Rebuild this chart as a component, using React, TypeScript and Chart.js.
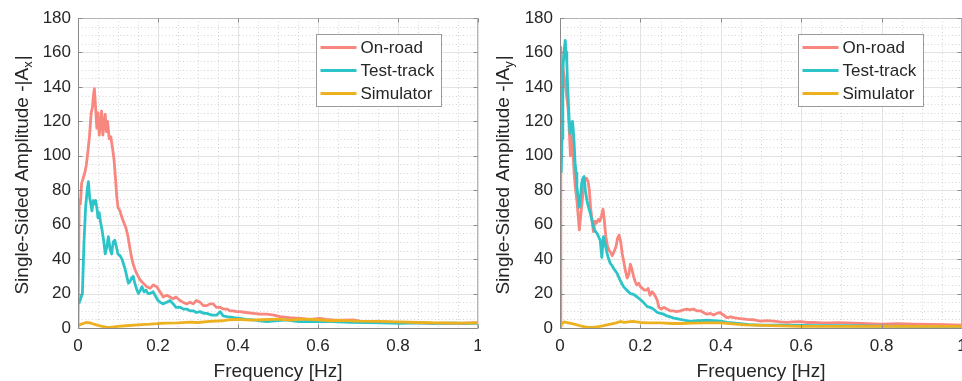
import { useEffect, useRef } from "react";
import { Chart, registerables } from "chart.js";

Chart.register(...registerables);

type Pt = [number, number];

const seriesNames = ["On-road", "Test-track", "Simulator"];
const seriesColors = ["#F7877F", "#2CC4C8", "#EDB120"];
const xTicks = [0, 0.2, 0.4, 0.6, 0.8, 1];
const yTicks = [0, 20, 40, 60, 80, 100, 120, 140, 160, 180];

// ---- Left panel (A_x) ----
const axOnRoad: Pt[] = [
  [0, 0], [0.003, 74], [0.006, 72], [0.009, 84], [0.013, 87], [0.017, 90], [0.021, 95], [0.025, 103],
  [0.029, 112], [0.033, 125], [0.036, 128], [0.039, 136], [0.041, 139], [0.044, 128], [0.047, 116],
  [0.05, 125], [0.053, 112], [0.056, 118], [0.059, 126], [0.062, 112], [0.065, 118], [0.068, 124],
  [0.071, 114], [0.074, 120], [0.078, 110], [0.082, 111], [0.086, 105], [0.09, 98], [0.094, 86],
  [0.097, 76], [0.1, 70], [0.105, 68], [0.11, 64], [0.115, 61], [0.12, 58], [0.125, 53], [0.13, 46],
  [0.134, 41], [0.138, 37], [0.1425, 34], [0.148, 31], [0.155, 28], [0.163, 26], [0.172, 24],
  [0.18, 23], [0.188, 25], [0.197, 24], [0.202, 22], [0.208, 20], [0.213, 18], [0.222, 19],
  [0.23, 18], [0.238, 17], [0.245, 18], [0.255, 16], [0.262, 15], [0.272, 14], [0.28, 15],
  [0.288, 14], [0.296, 16], [0.305, 15], [0.313, 13], [0.322, 13], [0.33, 14], [0.338, 14],
  [0.346, 12], [0.355, 12], [0.363, 11], [0.372, 11], [0.38, 10], [0.388, 10], [0.396, 9.5],
  [0.405, 9.5], [0.42, 9], [0.438, 8.5], [0.455, 8], [0.472, 8], [0.49, 7.5], [0.505, 6.6],
  [0.53, 6], [0.555, 5.6], [0.58, 5], [0.605, 5.6], [0.62, 5], [0.638, 4.7], [0.66, 4.5],
  [0.688, 4.7], [0.705, 4], [0.722, 3.7], [0.76, 3.5], [0.805, 3.1], [0.85, 3], [0.888, 2.7],
  [0.93, 2.8], [0.96, 2.6], [1, 3.1],
];
const axTestTrack: Pt[] = [
  [0.002, 14], [0.005, 16], [0.008, 18], [0.011, 20], [0.015, 50], [0.019, 70], [0.023, 80],
  [0.026, 85], [0.029, 76], [0.032, 72], [0.035, 68], [0.038, 74], [0.041, 72], [0.044, 74],
  [0.047, 70], [0.05, 64], [0.053, 67], [0.056, 62], [0.06, 57], [0.064, 51], [0.068, 43],
  [0.072, 47], [0.076, 53], [0.08, 46], [0.084, 43], [0.088, 50], [0.092, 51], [0.096, 47],
  [0.1, 43], [0.105, 42], [0.11, 40], [0.114, 37], [0.118, 34], [0.122, 30], [0.126, 26],
  [0.13, 27], [0.134, 29], [0.138, 30], [0.142, 26], [0.146, 23], [0.151, 20], [0.156, 22],
  [0.16, 24], [0.165, 21], [0.17, 22], [0.175, 20], [0.18, 20], [0.188, 21], [0.195, 18],
  [0.2, 16], [0.205, 15], [0.212, 14], [0.222, 15], [0.23, 16], [0.238, 14], [0.245, 12],
  [0.255, 12], [0.263, 11], [0.272, 11], [0.28, 10], [0.288, 10], [0.296, 9], [0.305, 9.5],
  [0.315, 8.5], [0.322, 8.5], [0.335, 7.5], [0.347, 7.5], [0.355, 9.5], [0.363, 7], [0.372, 6.6],
  [0.39, 6], [0.405, 5.6], [0.42, 5], [0.438, 4.7], [0.455, 4.2], [0.472, 3.7], [0.5, 4.3],
  [0.522, 4.7], [0.54, 4], [0.555, 3.7], [0.6, 3.9], [0.638, 3.7], [0.68, 3.3], [0.722, 3.1],
  [0.76, 3], [0.805, 2.7], [0.85, 3], [0.888, 2.7], [0.94, 2.8], [1, 2.7],
];
const axSimulator: Pt[] = [
  [0, 1], [0.005, 2], [0.012, 2.5], [0.02, 3.2], [0.03, 3], [0.04, 2.2], [0.05, 1.5], [0.06, 1],
  [0.07, 0.5], [0.08, 0.3], [0.09, 0.6], [0.1, 1], [0.12, 1.3], [0.15, 1.8], [0.18, 2.2],
  [0.2, 2.6], [0.22, 2.8], [0.25, 3], [0.28, 3.4], [0.3, 3.2], [0.33, 3.8], [0.36, 4.2],
  [0.38, 4.8], [0.4, 5], [0.43, 4.6], [0.46, 4.8], [0.5, 5.2], [0.53, 4.6], [0.56, 5.2],
  [0.6, 4.8], [0.63, 4.2], [0.66, 4.4], [0.7, 4], [0.75, 3.8], [0.8, 3.5], [0.85, 3.2],
  [0.9, 3], [0.95, 2.8], [1, 3],
];

// ---- Right panel (A_y) ----
const ayOnRoad: Pt[] = [
  [0, 0], [0.002, 163], [0.004, 150], [0.006, 156], [0.008, 150], [0.011, 145], [0.014, 140],
  [0.017, 134], [0.02, 128], [0.023, 115], [0.026, 100], [0.029, 115], [0.032, 104], [0.035, 90],
  [0.038, 82], [0.042, 74], [0.045, 66], [0.048, 57], [0.051, 64], [0.054, 71], [0.058, 80],
  [0.062, 86], [0.066, 87], [0.07, 85], [0.073, 80], [0.076, 70], [0.08, 62], [0.083, 56],
  [0.087, 62], [0.091, 61], [0.095, 63], [0.099, 62], [0.103, 65], [0.107, 69], [0.11, 63],
  [0.114, 53], [0.118, 48], [0.122, 45], [0.126, 44], [0.13, 42], [0.134, 44], [0.139, 47],
  [0.143, 52], [0.147, 54], [0.151, 50], [0.155, 43], [0.159, 38], [0.163, 33], [0.167, 29],
  [0.171, 31], [0.175, 37], [0.179, 34], [0.183, 30], [0.187, 27], [0.191, 25], [0.196, 26],
  [0.2, 24], [0.205, 23], [0.21, 22], [0.215, 22], [0.219, 23], [0.224, 19], [0.229, 21],
  [0.233, 20], [0.238, 18], [0.242, 16], [0.246, 12], [0.252, 11], [0.258, 12], [0.266, 11],
  [0.274, 10], [0.282, 10], [0.29, 9.5], [0.299, 10], [0.307, 10.5], [0.315, 11], [0.323, 10.5],
  [0.332, 11], [0.34, 10], [0.349, 10], [0.357, 9], [0.365, 8], [0.374, 8.5], [0.382, 7.5],
  [0.39, 8.5], [0.398, 9], [0.407, 7.5], [0.415, 6], [0.425, 6.5], [0.432, 6], [0.448, 5.5],
  [0.465, 5], [0.48, 4.8], [0.498, 4], [0.515, 4.3], [0.531, 4], [0.548, 3.5], [0.564, 3.3],
  [0.58, 3.6], [0.598, 3.7], [0.615, 3.2], [0.631, 3.3], [0.65, 3], [0.672, 2.9], [0.69, 3.1],
  [0.714, 2.9], [0.75, 2.6], [0.797, 2.3], [0.84, 2.5], [0.88, 2.3], [0.92, 2.1], [0.96, 2],
  [1, 1.7],
];
const ayTestTrack: Pt[] = [
  [0.003, 90], [0.005, 110], [0.007, 150], [0.01, 160], [0.013, 167], [0.015, 160], [0.017, 154],
  [0.019, 140], [0.021, 130], [0.023, 120], [0.025, 113], [0.028, 118], [0.031, 120], [0.033, 115],
  [0.035, 108], [0.0375, 96], [0.04, 90], [0.042, 82], [0.045, 76], [0.048, 70], [0.051, 76],
  [0.054, 84], [0.057, 87], [0.06, 88], [0.063, 80], [0.067, 74], [0.071, 70], [0.075, 67],
  [0.079, 63], [0.083, 59], [0.088, 56], [0.092, 55], [0.096, 53], [0.1, 51], [0.104, 41],
  [0.108, 53], [0.112, 49], [0.117, 43.5], [0.121, 40], [0.125, 37.6], [0.13, 36], [0.135, 34],
  [0.142, 31.8], [0.149, 28], [0.158, 24], [0.166, 22], [0.175, 20], [0.183, 19.5], [0.192, 18],
  [0.2, 16.5], [0.207, 15], [0.217, 12.4], [0.224, 12], [0.232, 11], [0.242, 9], [0.25, 8.5],
  [0.258, 8], [0.266, 7], [0.274, 6.5], [0.283, 5.8], [0.29, 5.5], [0.299, 5], [0.31, 4.5],
  [0.325, 3.8], [0.34, 4.3], [0.349, 4.3], [0.365, 4.5], [0.382, 4.3], [0.4, 4], [0.415, 3.3],
  [0.43, 3], [0.448, 2.5], [0.47, 2], [0.498, 1.7], [0.548, 1.7], [0.6, 1.5], [0.631, 1.4],
  [0.7, 1.3], [0.8, 1.1], [0.9, 1], [1, 1],
];
const aySimulator: Pt[] = [
  [0, 0], [0.005, 2.5], [0.01, 3.5], [0.02, 3], [0.03, 2.5], [0.04, 2], [0.05, 1.3], [0.06, 0.8],
  [0.07, 0.4], [0.08, 0.3], [0.09, 0.6], [0.1, 1], [0.12, 2], [0.14, 3], [0.15, 3.8], [0.16, 3.2],
  [0.18, 3.9], [0.2, 3.2], [0.22, 3], [0.25, 3], [0.28, 2.6], [0.3, 2.6], [0.33, 2.8], [0.36, 3],
  [0.4, 3], [0.43, 2.4], [0.46, 1.8], [0.5, 1.5], [0.55, 1.2], [0.6, 1], [0.7, 1], [0.8, 1],
  [0.9, 0.9], [1, 1],
];

const FONT = "'Liberation Sans', Arial, Helvetica, sans-serif";
const TEXT = "#262626";

function makePlugin(sub: string) {
  return {
    id: "matlabDecor" + sub,
    beforeDatasetsDraw(chart: any) {
      const { ctx, chartArea: a, scales } = chart;
      const x = scales.x;
      const y = scales.y;
      ctx.save();
      ctx.lineWidth = 1;
      ctx.strokeStyle = "#d4d4d4";
      ctx.setLineDash([1, 2.5]);
      for (let i = 1; i < 20; i++) {
        if (i % 4 === 0) continue;
        const px = Math.round(x.getPixelForValue(i * 0.05)) + 0.5;
        ctx.beginPath();
        ctx.moveTo(px, a.top);
        ctx.lineTo(px, a.bottom);
        ctx.stroke();
      }
      for (let i = 1; i < 36; i++) {
        if (i % 4 === 0) continue;
        const py = Math.round(y.getPixelForValue(i * 5)) + 0.5;
        ctx.beginPath();
        ctx.moveTo(a.left, py);
        ctx.lineTo(a.right, py);
        ctx.stroke();
      }
      ctx.setLineDash([]);
      ctx.strokeStyle = "#e2e2e2";
      xTicks.forEach((v) => {
        const px = Math.round(x.getPixelForValue(v)) + 0.5;
        ctx.beginPath();
        ctx.moveTo(px, a.top);
        ctx.lineTo(px, a.bottom);
        ctx.stroke();
      });
      yTicks.forEach((v) => {
        const py = Math.round(y.getPixelForValue(v)) + 0.5;
        ctx.beginPath();
        ctx.moveTo(a.left, py);
        ctx.lineTo(a.right, py);
        ctx.stroke();
      });
      ctx.restore();
    },
    afterDatasetsDraw(chart: any) {
      const { ctx, chartArea: a, scales } = chart;
      const x = scales.x;
      const y = scales.y;
      const L = Math.round(a.left) + 0.5;
      const R = Math.round(a.right) - 0.5;
      const T = Math.round(a.top) + 0.5;
      const B = Math.round(a.bottom) + 0.5;
      ctx.save();
      ctx.lineWidth = 1;
      ctx.strokeStyle = "#b4b4b4";
      ctx.beginPath();
      ctx.moveTo(L, T);
      ctx.lineTo(R, T);
      ctx.lineTo(R, B);
      ctx.stroke();
      ctx.strokeStyle = "#8a8a8a";
      xTicks.forEach((v) => {
        const px = Math.round(x.getPixelForValue(v)) + 0.5;
        ctx.beginPath();
        ctx.moveTo(px, B);
        ctx.lineTo(px, B - 4);
        ctx.moveTo(px, T);
        ctx.lineTo(px, T + 4);
        ctx.stroke();
      });
      yTicks.forEach((v) => {
        const py = Math.round(y.getPixelForValue(v)) + 0.5;
        ctx.beginPath();
        ctx.moveTo(L, py);
        ctx.lineTo(L + 4, py);
        ctx.moveTo(R, py);
        ctx.lineTo(R - 4, py);
        ctx.stroke();
      });
      ctx.strokeStyle = "#8a8a8a";
      ctx.beginPath();
      ctx.moveTo(L, T);
      ctx.lineTo(L, B);
      ctx.lineTo(R, B);
      ctx.stroke();

      // legend
      const bx = Math.round(a.left + 238) + 0.5;
      const by = 34.5;
      const bw = 125;
      const bh = 72;
      ctx.fillStyle = "#ffffff";
      ctx.fillRect(bx, by, bw, bh);
      ctx.strokeStyle = "#9a9a9a";
      ctx.strokeRect(bx, by, bw, bh);
      ctx.font = `17px ${FONT}`;
      ctx.textBaseline = "middle";
      ctx.textAlign = "left";
      chart.data.datasets.forEach((ds: any, i: number) => {
        const cy = 47.5 + 23 * i;
        ctx.strokeStyle = ds.borderColor;
        ctx.lineWidth = 2.8;
        ctx.beginPath();
        ctx.moveTo(bx + 4, cy);
        ctx.lineTo(bx + 40, cy);
        ctx.stroke();
        ctx.fillStyle = TEXT;
        ctx.fillText(ds.label, bx + 44, cy + 0.5);
      });
      ctx.restore();
    },
    afterDraw(chart: any) {
      const { ctx, chartArea: a } = chart;
      ctx.save();
      ctx.fillStyle = TEXT;
      ctx.font = `19px ${FONT}`;
      ctx.textAlign = "center";
      ctx.textBaseline = "alphabetic";
      ctx.fillText("Frequency [Hz]", (a.left + a.right) / 2, 377);
      const main = "Single-Sided Amplitude -|A";
      const tail = "|";
      ctx.font = `19px ${FONT}`;
      const wMain = ctx.measureText(main).width;
      const wTail = ctx.measureText(tail).width;
      ctx.font = `13px ${FONT}`;
      const wSub = ctx.measureText(sub).width;
      const total = wMain + wSub + wTail + 1;
      const cy = (a.top + a.bottom) / 2 + 2;
      ctx.translate(27.5, cy);
      ctx.rotate(-Math.PI / 2);
      ctx.textAlign = "left";
      let px = -total / 2;
      ctx.font = `19px ${FONT}`;
      ctx.fillText(main, px, 0);
      px += wMain;
      ctx.font = `13px ${FONT}`;
      ctx.fillText(sub, px, 4.5);
      px += wSub + 1;
      ctx.font = `19px ${FONT}`;
      ctx.fillText(tail, px, 0);
      ctx.restore();
    },
  };
}

function toPoints(arr: Pt[]) {
  return arr.map(([f, v]) => ({ x: f, y: v }));
}

function Panel({ series, sub, padLeft, yWidth, padRight }: { series: Pt[][]; sub: string; padLeft: number; yWidth: number; padRight: number }) {
  const ref = useRef<HTMLCanvasElement | null>(null);
  useEffect(() => {
    if (!ref.current) return;
    const chart = new Chart(ref.current, {
      type: "line",
      data: {
        datasets: series.map((s, i) => ({
          label: seriesNames[i],
          data: toPoints(s),
          borderColor: seriesColors[i],
          backgroundColor: seriesColors[i],
          borderWidth: 2.8,
          borderJoinStyle: "round",
          pointRadius: 0,
          tension: 0,
          fill: false,
          order: 2 - i,
        })),
      },
      options: {
        responsive: false,
        animation: false,
        events: [],
        layout: { autoPadding: false, padding: { left: padLeft, right: padRight, top: 18, bottom: 0 } },
        plugins: { legend: { display: false }, tooltip: { enabled: false }, title: { display: false } },
        scales: {
          x: {
            type: "linear",
            min: 0,
            max: 1,
            afterBuildTicks: (s: any) => {
              s.ticks = xTicks.map((v) => ({ value: v }));
            },
            ticks: {
              autoSkip: false,
              maxRotation: 0,
              padding: 8,
              color: TEXT,
              font: { family: FONT, size: 17 },
              callback: (v: any) => String(Number(Number(v).toFixed(1))),
            },
            grid: { display: false, drawTicks: false },
            border: { display: false },
            afterFit: (s: any) => {
              s.height = 53;
              s.paddingLeft = 0;
              s.paddingRight = 0;
            },
          },
          y: {
            type: "linear",
            min: 0,
            max: 180,
            afterBuildTicks: (s: any) => {
              s.ticks = yTicks.map((v) => ({ value: v }));
            },
            ticks: {
              autoSkip: false,
              padding: 7,
              color: TEXT,
              font: { family: FONT, size: 17 },
            },
            grid: { display: false, drawTicks: false },
            border: { display: false },
            afterFit: (s: any) => {
              s.width = yWidth;
              s.paddingTop = 0;
              s.paddingBottom = 0;
            },
          },
        },
      } as any,
      plugins: [makePlugin(sub)],
    });
    return () => chart.destroy();
  }, []);
  return <canvas ref={ref} width={481} height={381} style={{ display: "block" }} />;
}

export default function App() {
  return (
    <div style={{ position: "absolute", left: 0, top: 0, width: 962, height: 381, background: "#fff", display: "flex" }}>
      <Panel series={[axOnRoad, axTestTrack, axSimulator]} sub="x" padLeft={8} yWidth={70} padRight={3} />
      <Panel series={[ayOnRoad, ayTestTrack, aySimulator]} sub="y" padLeft={8} yWidth={71} padRight={0} />
    </div>
  );
}
